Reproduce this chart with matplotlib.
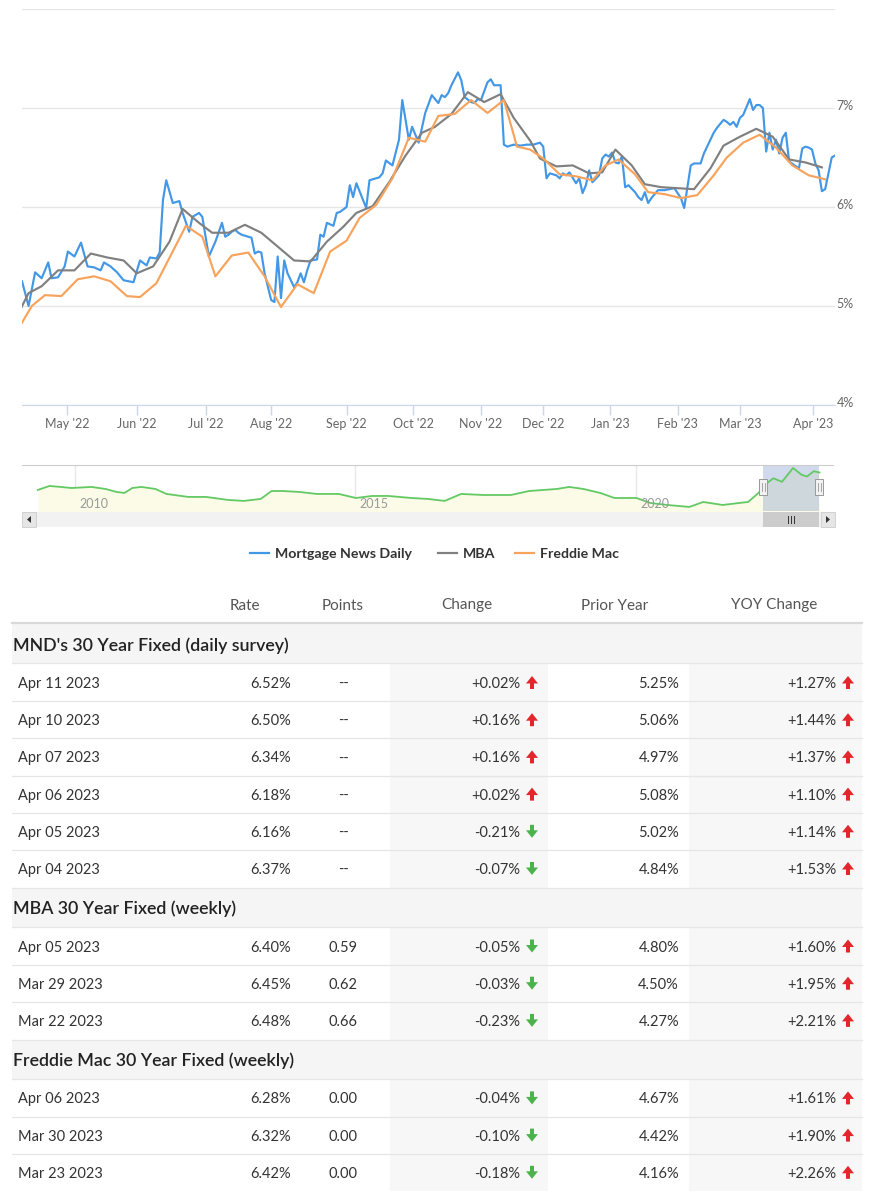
import numpy as np
import pandas as pd
import matplotlib
matplotlib.use("Agg")
import matplotlib.pyplot as plt
from matplotlib.patches import Rectangle, FancyArrow, Polygon
from matplotlib.transforms import ScaledTranslation
from pandas.tseries.holiday import USFederalHolidayCalendar
from pandas.tseries.offsets import CustomBusinessDay

plt.rcParams["font.family"] = ["Lato", "DejaVu Sans"]

# ---------------------------------------------------------------- series data
mnd_dates = [
    "2022-04-11", "2022-04-13", "2022-04-18", "2022-04-20", "2022-04-22", "2022-04-25",
    "2022-04-27", "2022-04-29", "2022-05-02", "2022-05-04", "2022-05-06", "2022-05-10",
    "2022-05-12", "2022-05-16", "2022-05-17", "2022-05-19", "2022-05-23", "2022-05-25",
    "2022-05-31", "2022-06-02", "2022-06-06", "2022-06-07", "2022-06-09", "2022-06-10",
    "2022-06-13", "2022-06-14", "2022-06-16", "2022-06-17", "2022-06-21", "2022-06-22",
    "2022-06-24", "2022-06-27", "2022-06-29", "2022-06-30", "2022-07-05", "2022-07-07",
    "2022-07-11", "2022-07-12", "2022-07-13", "2022-07-14", "2022-07-15", "2022-07-18",
    "2022-07-19", "2022-07-22", "2022-07-25", "2022-07-26", "2022-07-27", "2022-07-28",
    "2022-08-01", "2022-08-02", "2022-08-03", "2022-08-04", "2022-08-05", "2022-08-08",
    "2022-08-10", "2022-08-11", "2022-08-12", "2022-08-15", "2022-08-16", "2022-08-17",
    "2022-08-19", "2022-08-22", "2022-08-23", "2022-08-24", "2022-08-26", "2022-08-29",
    "2022-08-30", "2022-09-01", "2022-09-02", "2022-09-06", "2022-09-07", "2022-09-12",
    "2022-09-13", "2022-09-16", "2022-09-19", "2022-09-20", "2022-09-22", "2022-09-26",
    "2022-09-27", "2022-09-29", "2022-09-30", "2022-10-04", "2022-10-06", "2022-10-11",
    "2022-10-13", "2022-10-14", "2022-10-17", "2022-10-18", "2022-10-19", "2022-10-21",
    "2022-10-24", "2022-10-25", "2022-10-27", "2022-10-28", "2022-10-31", "2022-11-01",
    "2022-11-03", "2022-11-04", "2022-11-07", "2022-11-09", "2022-11-10", "2022-11-14",
    "2022-11-16", "2022-11-18", "2022-11-22", "2022-11-28", "2022-11-30", "2022-12-01",
    "2022-12-02", "2022-12-05", "2022-12-07", "2022-12-08", "2022-12-09", "2022-12-12",
    "2022-12-13", "2022-12-15", "2022-12-16", "2022-12-19", "2022-12-20", "2022-12-21",
    "2022-12-22", "2022-12-27", "2022-12-28", "2022-12-29", "2022-12-30", "2023-01-03",
    "2023-01-04", "2023-01-05", "2023-01-06", "2023-01-09", "2023-01-10", "2023-01-12",
    "2023-01-13", "2023-01-17", "2023-01-18", "2023-01-19", "2023-01-20", "2023-01-24",
    "2023-01-26", "2023-01-31", "2023-02-02", "2023-02-03", "2023-02-07", "2023-02-08",
    "2023-02-10", "2023-02-13", "2023-02-16", "2023-02-17", "2023-02-22", "2023-02-23",
    "2023-02-24", "2023-02-27", "2023-02-28", "2023-03-01", "2023-03-02", "2023-03-06",
    "2023-03-07", "2023-03-08", "2023-03-09", "2023-03-10", "2023-03-13", "2023-03-14",
    "2023-03-15", "2023-03-16", "2023-03-17", "2023-03-20", "2023-03-21", "2023-03-22",
    "2023-03-27", "2023-03-28", "2023-03-29", "2023-03-30", "2023-03-31", "2023-04-03",
    "2023-04-04", "2023-04-05", "2023-04-06", "2023-04-07", "2023-04-10", "2023-04-11",
]
mnd_rates = [
    5.25, 5.00, 5.34, 5.28, 5.44, 5.28,
    5.29, 5.40, 5.55, 5.50, 5.64, 5.40,
    5.39, 5.36, 5.44, 5.40, 5.34, 5.26,
    5.24, 5.46, 5.41, 5.49, 5.48, 5.54,
    6.07, 6.27, 6.04, 6.05, 6.06, 5.94,
    5.75, 5.90, 5.94, 5.90, 5.50, 5.65,
    5.84, 5.70, 5.72, 5.75, 5.77, 5.74,
    5.72, 5.69, 5.53, 5.55, 5.54, 5.33,
    5.06, 5.04, 5.50, 5.08, 5.46, 5.33,
    5.19, 5.24, 5.33, 5.24, 5.36, 5.46,
    5.47, 5.72, 5.70, 5.84, 5.81, 5.94,
    5.95, 6.00, 6.22, 6.10, 6.24, 5.99,
    6.27, 6.30, 6.34, 6.47, 6.42, 6.68,
    7.08, 6.68, 6.81, 6.65, 6.95, 7.13,
    7.05, 7.13, 7.11, 7.15, 7.23, 7.36,
    7.28, 7.11, 7.06, 7.05, 7.09, 7.08,
    7.26, 7.29, 7.23, 7.23, 6.63, 6.61,
    6.63, 6.62, 6.63, 6.63, 6.65, 6.61,
    6.29, 6.34, 6.32, 6.29, 6.34, 6.32,
    6.35, 6.24, 6.29, 6.14, 6.22, 6.37,
    6.25, 6.32, 6.49, 6.53, 6.51, 6.55,
    6.45, 6.44, 6.51, 6.20, 6.22, 6.15,
    6.10, 6.07, 6.15, 6.04, 6.09, 6.17,
    6.17, 6.19, 6.09, 5.99, 6.42, 6.44,
    6.44, 6.54, 6.75, 6.80, 6.88, 6.86,
    6.83, 6.86, 6.81, 6.90, 6.93, 7.09,
    6.98, 7.03, 7.03, 7.00, 6.56, 6.75,
    6.58, 6.68, 6.54, 6.70, 6.75, 6.46,
    6.39, 6.59, 6.61, 6.60, 6.58, 6.44,
    6.37, 6.16, 6.18, 6.34, 6.50, 6.52,
]

mba_dates = [
    "2022-04-06", "2022-04-13", "2022-04-20", "2022-04-27", "2022-05-04", "2022-05-11",
    "2022-05-18", "2022-05-25", "2022-06-01", "2022-06-08", "2022-06-15", "2022-06-22",
    "2022-06-29", "2022-07-06", "2022-07-13", "2022-07-20", "2022-07-27", "2022-08-10",
    "2022-08-17", "2022-08-24", "2022-08-31", "2022-09-07", "2022-09-14", "2022-09-21",
    "2022-09-28", "2022-10-05", "2022-10-12", "2022-10-19", "2022-10-26", "2022-11-02",
    "2022-11-09", "2022-11-16", "2022-11-23", "2022-11-30", "2022-12-07", "2022-12-14",
    "2022-12-21", "2022-12-28", "2023-01-04", "2023-01-11", "2023-01-18", "2023-01-25",
    "2023-02-01", "2023-02-08", "2023-02-15", "2023-02-22", "2023-03-01", "2023-03-08",
    "2023-03-15", "2023-03-22", "2023-03-29", "2023-04-05",
]
mba_rates = [
    4.80, 5.13, 5.20, 5.36, 5.36, 5.53,
    5.49, 5.46, 5.33, 5.40, 5.65, 5.98,
    5.84, 5.74, 5.74, 5.82, 5.74, 5.46,
    5.45, 5.65, 5.80, 5.94, 6.01, 6.25,
    6.52, 6.75, 6.81, 6.94, 7.16, 7.06,
    7.14, 6.90, 6.67, 6.49, 6.41, 6.42,
    6.34, 6.35, 6.58, 6.42, 6.23, 6.20,
    6.19, 6.18, 6.39, 6.62, 6.71, 6.79,
    6.71, 6.48, 6.45, 6.40,
]

fm_dates = [
    "2022-04-07", "2022-04-14", "2022-04-21", "2022-04-28", "2022-05-05", "2022-05-12",
    "2022-05-19", "2022-05-26", "2022-06-02", "2022-06-09", "2022-06-23", "2022-06-30",
    "2022-07-07", "2022-07-14", "2022-07-21", "2022-07-28", "2022-08-04", "2022-08-11",
    "2022-08-18", "2022-08-25", "2022-09-01", "2022-09-08", "2022-09-15", "2022-09-22",
    "2022-09-29", "2022-10-06", "2022-10-13", "2022-10-20", "2022-10-27", "2022-11-03",
    "2022-11-10", "2022-11-17", "2022-11-23", "2022-12-01", "2022-12-08", "2022-12-15",
    "2022-12-22", "2022-12-29", "2023-01-05", "2023-01-12", "2023-01-19", "2023-01-26",
    "2023-02-02", "2023-02-09", "2023-02-16", "2023-02-23", "2023-03-02", "2023-03-09",
    "2023-03-16", "2023-03-23", "2023-03-30", "2023-04-06",
]
fm_rates = [
    4.72, 5.00, 5.11, 5.10, 5.27, 5.30,
    5.25, 5.10, 5.09, 5.23, 5.81, 5.70,
    5.30, 5.51, 5.54, 5.30, 4.99, 5.22,
    5.13, 5.55, 5.66, 5.89, 6.02, 6.29,
    6.70, 6.66, 6.92, 6.94, 7.08, 6.95,
    7.08, 6.61, 6.58, 6.49, 6.33, 6.31,
    6.27, 6.42, 6.48, 6.33, 6.15, 6.13,
    6.09, 6.12, 6.32, 6.50, 6.65, 6.73,
    6.60, 6.42, 6.32, 6.28,
]

series_names = ["Mortgage News Daily", "MBA", "Freddie Mac"]
series_colors = ["#4297e6", "#808080", "#f7a35c"]

y_ticks = [4, 5, 6, 7, 8]
y_labels = ["4%", "5%", "6%", "7%", ""]
month_ticks = ["2022-05-01", "2022-06-01", "2022-07-01", "2022-08-01", "2022-09-01",
               "2022-10-01", "2022-11-01", "2022-12-01", "2023-01-01", "2023-02-01",
               "2023-03-01", "2023-04-01"]
month_labels = ["May '22", "Jun '22", "Jul '22", "Aug '22", "Sep '22", "Oct '22",
                "Nov '22", "Dec '22", "Jan '23", "Feb '23", "Mar '23", "Apr '23"]

# navigator (long history, green)
nav_dates = [
    "2009-05-05", "2009-07-20", "2009-10-01", "2009-12-10", "2010-04-20", "2010-07-20",
    "2010-10-01", "2010-11-20", "2011-01-10", "2011-03-10", "2011-06-10", "2011-08-20",
    "2012-01-10", "2012-05-05", "2012-09-25", "2013-01-05", "2013-04-25", "2013-07-05",
    "2013-09-15", "2014-01-05", "2014-04-25", "2014-09-15", "2015-01-05", "2015-04-20",
    "2015-08-05", "2016-01-01", "2016-04-20", "2016-08-05", "2016-11-20", "2017-04-10",
    "2017-10-10", "2018-02-05", "2018-08-05", "2018-10-25", "2019-01-25", "2019-05-15",
    "2019-08-15", "2019-11-15", "2020-01-05", "2020-04-05", "2020-07-25", "2020-12-15",
    "2021-03-15", "2021-07-20", "2021-11-05", "2022-01-01", "2022-03-10", "2022-04-15",
    "2022-06-15", "2022-08-10", "2022-10-21", "2022-12-15", "2023-01-20", "2023-03-05",
    "2023-04-11",
]
nav_rates = [
    4.88, 5.33, 5.22, 5.10, 5.22, 4.99,
    4.65, 4.54, 5.10, 5.22, 4.99, 4.43,
    4.09, 4.09, 3.75, 3.64, 3.86, 4.76,
    4.76, 4.65, 4.43, 4.43, 3.97, 4.20,
    4.20, 3.97, 3.86, 3.64, 4.43, 4.31,
    4.31, 4.76, 4.99, 5.22, 4.99, 4.54,
    3.97, 3.97, 3.97, 3.41, 3.18, 2.96,
    3.52, 3.18, 3.41, 3.52, 4.54, 5.40,
    6.20, 5.80, 7.36, 6.60, 6.40, 7.00,
    6.85,
]
nav_years = ["2010", "2015", "2020"]

# table
table_header = ["Rate", "Points", "Change", "Prior Year", "YOY Change"]
section_titles = ["MND's 30 Year Fixed (daily survey)", "MBA 30 Year Fixed (weekly)",
                  "Freddie Mac 30 Year Fixed (weekly)"]
mnd_tbl_dates = ["Apr 11 2023", "Apr 10 2023", "Apr 07 2023", "Apr 06 2023",
                 "Apr 05 2023", "Apr 04 2023"]
mnd_tbl_rate = [6.52, 6.50, 6.34, 6.18, 6.16, 6.37]
mnd_tbl_points = [None, None, None, None, None, None]
mnd_tbl_change = [0.02, 0.16, 0.16, 0.02, -0.21, -0.07]
mnd_tbl_prior = [5.25, 5.06, 4.97, 5.08, 5.02, 4.84]
mnd_tbl_yoy = [1.27, 1.44, 1.37, 1.10, 1.14, 1.53]

mba_tbl_dates = ["Apr 05 2023", "Mar 29 2023", "Mar 22 2023"]
mba_tbl_rate = [6.40, 6.45, 6.48]
mba_tbl_points = [0.59, 0.62, 0.66]
mba_tbl_change = [-0.05, -0.03, -0.23]
mba_tbl_prior = [4.80, 4.50, 4.27]
mba_tbl_yoy = [1.60, 1.95, 2.21]

fm_tbl_dates = ["Apr 06 2023", "Mar 30 2023", "Mar 23 2023"]
fm_tbl_rate = [6.28, 6.32, 6.42]
fm_tbl_points = [0.00, 0.00, 0.00]
fm_tbl_change = [-0.04, -0.10, -0.18]
fm_tbl_prior = [4.67, 4.42, 4.16]
fm_tbl_yoy = [1.61, 1.90, 2.26]

# ---------------------------------------------------------------- layout
W, H = 872, 1200
fig = plt.figure(figsize=(W / 100, H / 100), dpi=100)


def box(x0, y0, x1, y1):
    return [x0 / W, 1 - y1 / H, (x1 - x0) / W, (y1 - y0) / H]


# highstock style ordinal axis: one slot per trading day
no_trade = pd.to_datetime(["2022-04-15", "2022-11-25"])
cal = pd.date_range("2022-03-28", "2023-04-21",
                    freq=CustomBusinessDay(calendar=USFederalHolidayCalendar()))
cal = cal[~cal.isin(no_trade)]
cal_ns = cal.values.astype("int64")


def slot(dates):
    ns = pd.to_datetime(dates).values.astype("int64")
    return np.interp(ns, cal_ns, np.arange(len(cal)))


ax = fig.add_axes(box(22, 9, 835, 405))
all_dates = [mnd_dates, mba_dates, fm_dates]
all_rates = [mnd_rates, mba_rates, fm_rates]
for i, (d, r, c) in enumerate(zip(all_dates, all_rates, series_colors)):
    ax.plot(slot(d), r, color=c, lw=1.55, zorder=3 + i, solid_joinstyle="round")

ax.set_xlim(slot(["2022-04-11", "2023-04-11"]))
ax.set_ylim(4, 8)
ax.set_yticks(y_ticks)
ax.set_yticklabels(y_labels)
ax.yaxis.tick_right()
ax.tick_params(axis="y", length=0, pad=1, labelsize=9, labelcolor="#666666")
for lab in ax.get_yticklabels():
    lab.set_transform(lab.get_transform() + ScaledTranslation(0, 3 / 100, fig.dpi_scale_trans))
ax.grid(axis="y", color="#e6e6e6", lw=1)
ax.set_axisbelow(True)
for s in ["top", "left", "right"]:
    ax.spines[s].set_visible(False)
ax.spines["bottom"].set_color("#ccd6eb")
ax.set_xticks(slot(month_ticks))
ax.set_xticklabels(month_labels)
ax.tick_params(axis="x", length=7, width=1, color="#ccd6eb", labelsize=9,
               labelcolor="#666666", pad=2)

# navigator
nav = fig.add_axes(box(22, 465, 833, 511))
nav_lo, nav_hi = pd.Timestamp("2009-01-22"), pd.Timestamp("2023-07-08")
nd = pd.to_datetime(nav_dates)
nav.fill_between(nd, nav_rates, 0, color="#fbfbe8", lw=0)
nav.plot(nd, nav_rates, color="#63c963", lw=1.3)
nav.set_xlim(nav_lo, nav_hi)
nav.set_ylim(2.5, 7.7)
for yr in nav_years:
    t = pd.Timestamp(yr + "-01-01")
    nav.axvline(t, color="#e6e6e6", lw=1, zorder=0)
    nav.annotate(yr, xy=(t, 0), xycoords=("data", "axes fraction"), xytext=(3, 1),
                 textcoords="offset points", ha="left", va="bottom", fontsize=9,
                 color="#999999")
sel0, sel1 = pd.Timestamp("2022-04-11"), pd.Timestamp("2023-04-11")
nav.axvspan(sel0, sel1, color="#6685c2", alpha=0.3, lw=0)
nav.set_xticks([])
nav.set_yticks([])
for s in ["left", "right", "bottom"]:
    nav.spines[s].set_visible(False)
nav.spines["top"].set_color("#cccccc")


def nav_px(t):
    return 22 + (t - nav_lo) / (nav_hi - nav_lo) * (833 - 22)


# overlay in pixel coordinates
ov = fig.add_axes([0, 0, 1, 1])
ov.set_xlim(0, W)
ov.set_ylim(H, 0)
ov.axis("off")

h0, h1 = nav_px(sel0), nav_px(sel1)

# scrollbar
ov.add_patch(Rectangle((22, 512), 813, 15, fc="#f2f2f2", ec="#f2f2f2", lw=0))
ov.add_patch(Rectangle((22, 512), 14, 15, fc="#e6e6e6", ec="#cccccc", lw=0.6))
ov.add_patch(Rectangle((821, 512), 14, 15, fc="#e6e6e6", ec="#cccccc", lw=0.6))
ov.add_patch(Polygon([[31, 516], [31, 523], [27, 519.5]], closed=True, fc="#333333", lw=0))
ov.add_patch(Polygon([[826, 516], [826, 523], [830, 519.5]], closed=True, fc="#333333", lw=0))
ov.add_patch(Rectangle((h0, 512), h1 - h0, 15, fc="#cccccc", ec="#cccccc", lw=0))
mid = (h0 + h1) / 2
for dx in (-3, 0, 3):
    ov.plot([mid + dx, mid + dx], [516, 523], color="#333333", lw=0.7)

# navigator handles
for hx in (h0, h1):
    ov.add_patch(Rectangle((hx - 4, 479), 8, 16, fc="#f2f2f2", ec="#999999", lw=0.7, zorder=5))
    for dx in (-1.5, 1.5):
        ov.plot([hx + dx, hx + dx], [483, 491], color="#999999", lw=0.6, zorder=6)

# legend
legend_x = [250, 438, 515]
for name, col, lx in zip(series_names, series_colors, legend_x):
    ov.plot([lx, lx + 19], [553, 553], color=col, lw=1.6)
    ov.text(lx + 25, 553, name, fontsize=10.2, fontweight="bold", color="#333333",
            va="center_baseline")

# table
header_x = [245, 343, 467, 615, 774]
for lab, hx in zip(table_header, header_x):
    ov.text(hx, 604, lab, ha="center", va="center_baseline", fontsize=11, color="#555555")
ov.plot([12, 862], [622.5, 622.5], color="#d9d9d9", lw=1.6)

sections = [
    (mnd_tbl_dates, mnd_tbl_rate, mnd_tbl_points, mnd_tbl_change, mnd_tbl_prior, mnd_tbl_yoy),
    (mba_tbl_dates, mba_tbl_rate, mba_tbl_points, mba_tbl_change, mba_tbl_prior, mba_tbl_yoy),
    (fm_tbl_dates, fm_tbl_rate, fm_tbl_points, fm_tbl_change, fm_tbl_prior, fm_tbl_yoy),
]

items = []
y = 644.0
for k, sec in enumerate(sections):
    if k > 0:
        y += 39.0
    items.append(("head", y, k, None))
    y += 38.5
    for j in range(len(sec[0])):
        if j > 0:
            y += 37.2
        items.append(("row", y, k, j))

centers = [it[1] for it in items]
bounds = [623.5] + [(a + b) / 2 for a, b in zip(centers[:-1], centers[1:])] + [1191.0]

up_col, down_col = "#e3262b", "#4cb24c"


def arrow(x, yc, up):
    d = -1 if up else 1
    ov.add_patch(FancyArrow(x, yc - d * 6.5, 0, d * 13, width=4.0, head_width=12,
                            head_length=7.5, length_includes_head=True,
                            fc=up_col if up else down_col, lw=0, zorder=4))


txt = dict(va="center_baseline", fontsize=10.5, color="#333333")
for i, (kind, yc, k, j) in enumerate(items):
    top, bot = bounds[i], bounds[i + 1]
    if kind == "head":
        ov.add_patch(Rectangle((12, top), 850, bot - top, fc="#f5f5f5", lw=0, zorder=1))
        ov.text(13, yc, section_titles[k], va="center_baseline", fontsize=12.8,
                fontweight="semibold", color="#222222", zorder=3)
    else:
        ov.add_patch(Rectangle((390, top), 158, bot - top, fc="#f7f7f7", lw=0, zorder=1))
        ov.add_patch(Rectangle((689, top), 173, bot - top, fc="#f7f7f7", lw=0, zorder=1))
        dts, rate, pts, chg, prior, yoy = sections[k]
        ov.text(18, yc, dts[j], **txt)
        ov.text(291, yc, f"{rate[j]:.2f}%", ha="right", **txt)
        ov.text(343, yc, "--" if pts[j] is None else f"{pts[j]:.2f}", ha="center", **txt)
        ov.text(520, yc, f"{chg[j]:+.2f}%", ha="right", **txt)
        arrow(532, yc, chg[j] > 0)
        ov.text(679, yc, f"{prior[j]:.2f}%", ha="right", **txt)
        ov.text(836, yc, f"{yoy[j]:+.2f}%", ha="right", **txt)
        arrow(848, yc, yoy[j] > 0)
    if i > 0:
        ov.plot([12, 862], [top, top], color="#e6e6e6", lw=0.9, zorder=2)

fig.savefig("out.png", dpi=100)
